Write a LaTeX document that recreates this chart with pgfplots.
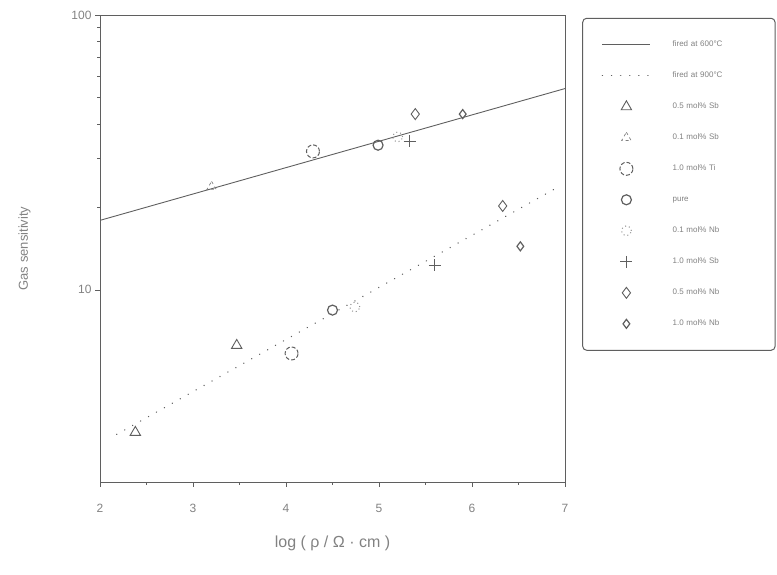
\documentclass[border=0pt]{standalone}
\usepackage{pgfplots}
\pgfplotsset{compat=1.18}
\usepackage{fontspec}
\setmainfont{Liberation Sans}
\definecolor{ink}{RGB}{95,95,95}
\definecolor{txt}{RGB}{130,130,130}
\begin{document}
\begin{tikzpicture}
\useasboundingbox (0pt,0pt) rectangle (777pt,575pt);
\begin{axis}[
  at={(100pt,93pt)}, anchor=south west,
  scale only axis, width=465pt, height=467pt,
  xmin=2, xmax=7, ymode=log, ymin=2, ymax=100,
  xtick={2,3,4,5,6,7}, minor xtick={2.5,3.5,4.5,5.5,6.5},
  ytick={10,100}, yticklabels={10,100},
  tick align=outside, tick pos=left,
  major tick length=5pt, minor tick length=3pt,
  axis line style={ink, line width=0.9pt},
  every tick/.style={ink, line width=0.7pt},
  tick label style={txt, font=\fontsize{12}{14}\selectfont},
  xticklabel style={yshift=-14pt},
  /pgf/number format/assume math mode=true,
  xlabel={log ( ρ / Ω · cm )},
  ylabel={Gas sensitivity},
  xlabel style={txt, font=\fontsize{16}{18}\selectfont, yshift=-16pt},
  ylabel style={txt, font=\fontsize{13}{15}\selectfont, yshift=34pt},
  legend cell align=left,
  legend style={at={(1.037,0.994)}, anchor=north west, draw=ink, line width=1pt,
    rounded corners=4pt,
    font=\fontsize{8}{9}\selectfont, text=txt, row sep=16pt,
    inner xsep=19pt, inner ysep=19pt,
    nodes={inner sep=1.5pt, text height=8pt, text depth=4pt, text width=102pt}},
  legend image code/.code={\draw[mark repeat=2,mark phase=2,#1] plot coordinates {(0pt,0pt) (24pt,0pt) (48pt,0pt)};},
]
\addplot[ink, line width=0.9pt] coordinates {(2.0,17.9) (7.0,54.0)};
\addlegendentry{\hspace*{20pt}fired at 600°C}
\addplot[ink, line width=1.4pt, line cap=round, dash pattern=on 0.1pt off 9pt] coordinates {(2.18,2.98) (6.9,23.4)};
\addlegendentry{\hspace*{20pt}fired at 900°C}
\addplot[only marks, ink, mark=triangle, mark size=6pt, line width=0.9pt] coordinates {(2.38,3.03) (3.47,6.28)};
\addlegendentry{\hspace*{20pt}0.5 mol\% Sb}
\addplot[only marks, ink!80, mark=triangle, mark size=5.5pt, line width=0.7pt, mark options={dashed}] coordinates {(3.2,23.7)};
\addlegendentry{\hspace*{20pt}0.1 mol\% Sb}
\addplot[only marks, ink, mark=o, mark size=6.5pt, line width=1pt, mark options={dash pattern=on 4pt off 2pt}] coordinates {(4.29,31.9) (4.06,5.87)};
\addlegendentry{\hspace*{20pt}1.0 mol\% Ti}
\addplot[only marks, ink, mark=o, mark size=5pt, line width=1.2pt] coordinates {(4.99,33.6) (4.5,8.44)};
\addlegendentry{\hspace*{20pt}pure}
\addplot[only marks, ink!70, mark=o, mark size=5pt, line width=1pt, mark options={dash pattern=on 1pt off 3pt}] coordinates {(5.2,36.0) (4.74,8.66)};
\addlegendentry{\hspace*{20pt}0.1 mol\% Nb}
\addplot[only marks, ink, mark=+, mark size=6pt, line width=0.9pt] coordinates {(5.33,34.7) (5.6,12.3)};
\addlegendentry{\hspace*{20pt}1.0 mol\% Sb}
\addplot[only marks, ink, mark=diamond, mark size=5.5pt, line width=0.9pt] coordinates {(5.39,43.6) (6.33,20.2)};
\addlegendentry{\hspace*{20pt}0.5 mol\% Nb}
\addplot[only marks, ink, mark=diamond, mark size=4.5pt, line width=1.2pt] coordinates {(5.9,43.6) (6.52,14.4)};
\addlegendentry{\hspace*{20pt}1.0 mol\% Nb}
\end{axis}
\end{tikzpicture}
\end{document}
